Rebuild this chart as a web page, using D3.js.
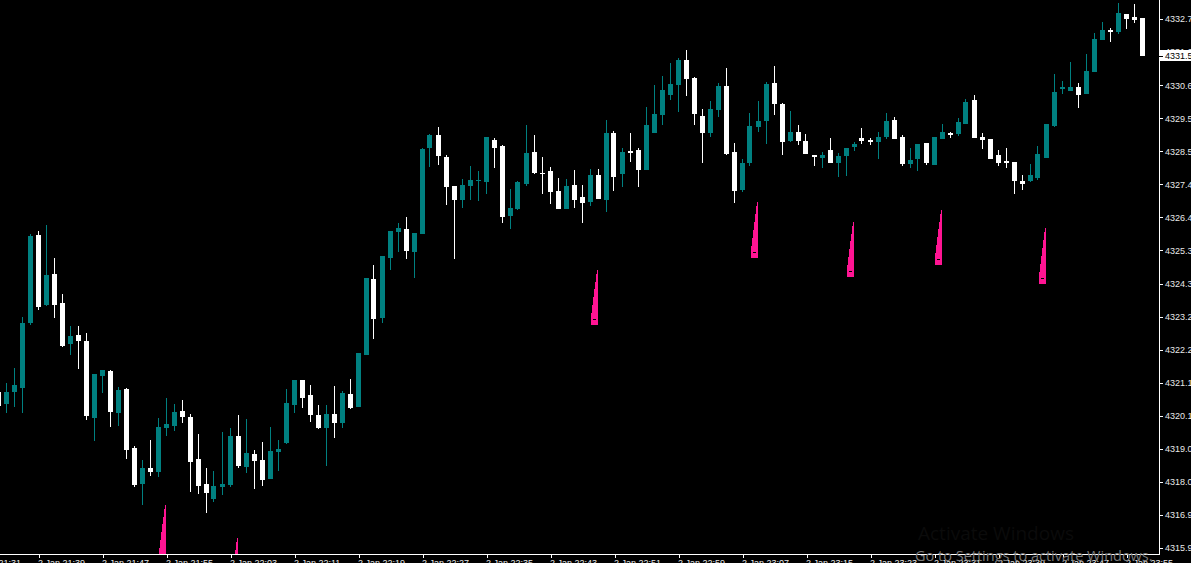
<!DOCTYPE html>
<html>
<head>
<meta charset="utf-8">
<script src="https://cdn.jsdelivr.net/npm/d3@7"></script>
<style>
  html, body { margin: 0; padding: 0; background: #000; overflow: hidden; }
  svg { display: block; }
</style>
</head>
<body>
<svg id="chart" width="1191" height="563"></svg>
<script>
// ---------------- data ----------------
const firstCandle = "2 Jan 21:34";   // one-minute candles
const opens = [
4320.88,4320.51,4320.88,4321.02,4323.07,4325.87,4323.64,4324.63,4323.71,4322.40,
4322.69,4322.50,4320.05,4321.39,4321.55,4320.21,4320.98,4319.10,4317.96,4318.47,
4318.34,4319.74,4319.80,4320.28,4320.09,4318.75,4317.96,4317.48,4317.86,4317.93,
4319.48,4318.50,4318.91,4318.72,4318.12,4318.97,4319.26,4320.47,4321.26,4320.78,
4320.15,4319.74,4320.18,4319.90,4320.82,4320.40,4322.06,4324.47,4323.23,4325.14,
4325.96,4326.06,4325.33,4325.90,4328.63,4329.04,4328.34,4327.42,4326.98,4327.42,
4327.58,4327.55,4328.88,4328.69,4326.47,4326.69,4327.49,4328.50,4327.84,4327.90,
4327.26,4326.69,4327.45,4327.07,4326.91,4327.77,4326.98,4329.11,4327.80,4328.53,
4328.57,4327.93,4329.11,4329.68,4330.31,4330.63,4331.42,4330.85,4329.65,4329.11,
4329.84,4330.60,4328.50,4327.30,4328.15,4329.30,4329.49,4330.69,4330.03,4328.85,
4329.14,4328.85,4328.41,4328.31,4328.57,4328.15,4328.37,4328.66,4328.95,4328.88,
4328.82,4328.98,4329.52,4328.98,4328.12,4328.28,4328.79,4328.09,4328.92,4329.11,
4329.07,4329.39,4330.15,4328.98,4328.92,4328.41,4328.22,4328.18,4327.58,4327.58,
4327.68,4328.31,4329.33,4330.50,4330.44,4330.57,4330.34,4331.04,4332.06,4332.38,
4332.31,4332.89,4332.79,4332.76];
const highs = [
4320.94,4321.17,4321.64,4323.28,4325.90,4325.99,4326.18,4325.14,4323.99,4322.98,
4322.98,4322.75,4321.45,4321.58,4321.58,4321.04,4321.01,4319.17,4318.72,4319.36,
4320.05,4320.69,4320.50,4320.63,4320.18,4319.55,4318.47,4318.37,4319.61,4319.74,
4320.15,4320.02,4319.04,4319.29,4319.77,4319.36,4320.98,4321.26,4321.26,4321.10,
4320.47,4320.47,4321.07,4320.91,4321.29,4322.12,4324.50,4324.91,4325.20,4325.99,
4326.25,4326.44,4325.93,4328.63,4329.07,4329.30,4328.41,4327.42,4327.64,4328.06,
4327.90,4328.98,4328.95,4328.72,4327.33,4327.58,4329.36,4329.04,4328.34,4328.03,
4327.68,4327.64,4327.93,4327.45,4327.96,4327.96,4329.52,4329.17,4328.63,4329.11,
4328.63,4329.93,4330.63,4330.92,4331.33,4331.49,4331.74,4330.88,4329.87,4330.12,
4330.69,4331.17,4328.79,4328.28,4329.74,4330.12,4330.73,4331.23,4330.06,4329.80,
4329.36,4329.07,4328.41,4328.50,4328.95,4328.47,4328.63,4328.82,4329.26,4328.95,
4329.14,4329.74,4329.61,4329.04,4328.63,4328.76,4328.79,4328.98,4329.39,4329.14,
4329.58,4330.19,4330.31,4329.11,4328.92,4328.57,4328.63,4328.18,4327.77,4328.12,
4328.69,4329.39,4330.98,4330.76,4331.36,4330.69,4331.61,4332.28,4332.63,4332.44,
4333.23,4332.89,4333.20,4332.76];
const lows = [
4320.31,4320.22,4320.40,4320.22,4323.01,4323.48,4323.61,4323.23,4322.31,4322.06,
4321.61,4319.99,4319.32,4320.85,4319.77,4319.80,4318.75,4317.86,4317.29,4318.21,
4318.18,4319.48,4319.64,4319.90,4317.70,4317.64,4317.04,4317.39,4317.61,4317.86,
4318.47,4318.31,4317.80,4317.89,4318.12,4318.37,4319.23,4320.21,4320.37,4319.93,
4319.71,4318.53,4319.42,4319.74,4320.34,4320.40,4322.06,4322.56,4323.07,4324.75,
4325.33,4325.10,4324.50,4325.90,4328.03,4328.09,4326.82,4325.10,4326.72,4326.98,
4326.95,4327.17,4328.00,4326.25,4326.06,4326.66,4327.42,4327.80,4327.17,4326.85,
4326.69,4326.69,4326.72,4326.25,4326.79,4327.01,4326.60,4327.26,4327.39,4328.18,
4327.39,4327.93,4329.11,4329.36,4330.15,4329.77,4330.28,4329.36,4328.15,4328.98,
4329.61,4328.41,4326.88,4327.23,4328.06,4329.14,4328.76,4329.68,4328.41,4328.82,
4328.72,4328.44,4328.06,4328.00,4328.15,4327.71,4327.74,4328.53,4328.76,4328.72,
4328.28,4328.92,4328.92,4328.06,4328.00,4327.90,4328.09,4328.09,4328.92,4328.95,
4329.01,4329.39,4328.95,4328.60,4328.28,4328.06,4328.00,4327.17,4327.30,4327.55,
4327.61,4328.31,4329.30,4330.34,4330.44,4329.90,4330.34,4331.04,4332.06,4332.00,
4332.25,4332.41,4332.60,4331.55];
const closes = [
4320.44,4320.88,4321.10,4323.07,4325.83,4323.58,4324.60,4323.64,4322.34,4322.66,
4322.50,4320.12,4321.45,4321.58,4320.25,4320.94,4319.04,4317.93,4318.47,4318.34,
4319.77,4319.87,4320.25,4320.09,4318.66,4317.89,4317.67,4317.89,4317.96,4319.48,
4318.53,4318.94,4318.69,4318.09,4319.01,4319.07,4320.53,4321.26,4320.69,4320.15,
4319.74,4320.18,4319.90,4320.85,4320.37,4322.12,4324.50,4323.20,4325.20,4325.99,
4326.09,4325.36,4325.93,4328.60,4329.04,4328.37,4327.39,4326.98,4327.45,4327.61,
4327.61,4328.98,4328.63,4326.44,4326.72,4327.55,4328.47,4327.84,4327.80,4327.23,
4326.69,4327.42,4326.98,4326.88,4327.77,4327.01,4329.11,4327.71,4328.50,4328.47,
4327.93,4329.36,4329.71,4330.47,4330.66,4331.42,4330.82,4329.71,4329.11,4329.87,
4330.60,4328.44,4327.26,4328.15,4329.33,4329.49,4330.66,4330.03,4328.82,4329.14,
4328.85,4328.44,4328.34,4328.41,4328.15,4328.37,4328.63,4328.76,4328.85,4328.82,
4328.98,4329.49,4328.92,4328.12,4328.25,4328.76,4328.15,4328.98,4329.14,4329.04,
4329.46,4330.09,4328.95,4328.88,4328.28,4328.15,4328.15,4327.58,4327.49,4327.77,
4328.44,4329.39,4330.41,4330.57,4330.57,4330.31,4331.08,4332.09,4332.38,4332.31,
4332.92,4332.73,4332.70,4331.55];

// time-axis labels (every 8 minutes)
const timeLabels = ["2 Jan 21:31","2 Jan 21:39","2 Jan 21:47","2 Jan 21:55","2 Jan 22:03",
  "2 Jan 22:11","2 Jan 22:19","2 Jan 22:27","2 Jan 22:35","2 Jan 22:43","2 Jan 22:51",
  "2 Jan 22:59","2 Jan 23:07","2 Jan 23:15","2 Jan 23:23","2 Jan 23:31","2 Jan 23:39",
  "2 Jan 23:47","2 Jan 23:55"];
// price-axis labels
const priceTicks = [4315.93,4316.98,4318.03,4319.08,4320.13,4321.18,4322.23,4323.28,
  4324.33,4325.38,4326.43,4327.48,4328.53,4329.58,4330.63,4331.68,4332.73];
const lastPrice = 4331.55;

// buy arrows: candle time, tip price, base price
const arrowTimes = ["2 Jan 21:55","2 Jan 22:04","2 Jan 22:49","2 Jan 23:09","2 Jan 23:21","2 Jan 23:32","2 Jan 23:45"];
const arrowTop = [4317.29,4316.24,4324.75,4326.91,4326.28,4326.66,4326.09];
const arrowBase = [4315.54,4314.50,4323.01,4325.14,4324.53,4324.91,4324.31];

// ---------------- helpers ----------------
const parseT = d3.timeParse("%Y %d %b %H:%M");
const toDate = s => parseT("2024 " + s);
const t0 = toDate(firstCandle);
const times = opens.map((_, i) => d3.timeMinute.offset(t0, i));
const candles = times.map((t, i) => ({t, o: opens[i], h: highs[i], l: lows[i], c: closes[i]}));

// ---------------- layout ----------------
const W = 1191, H = 563;
const plotRight = 1159, plotBottom = 554;
const TEAL = "#008080", BEAR = "#ffffff", PINK = "#ff1493";

const x = d3.scaleTime()
  .domain([times[0], times[times.length - 1]])
  .range([-1.5, -1.5 + 8 * (times.length - 1)]);
const y = d3.scaleLinear()
  .domain([priceTicks[0], priceTicks[priceTicks.length - 1]])
  .range([548, 19]);

const svg = d3.select("#chart");
svg.append("rect").attr("width", W).attr("height", H).attr("fill", "#000");

svg.append("defs").append("clipPath").attr("id", "plot")
  .append("rect").attr("x", 0).attr("y", 0).attr("width", plotRight).attr("height", plotBottom);

const plot = svg.append("g").attr("clip-path", "url(#plot)").attr("shape-rendering", "crispEdges");

const cg = plot.selectAll("g.candle").data(candles).join("g").attr("class", "candle")
  .attr("fill", d => d.c >= d.o ? TEAL : BEAR);
cg.append("rect")
  .attr("x", d => Math.round(x(d.t)) - 1)
  .attr("width", 1)
  .attr("y", d => Math.round(y(d.h)))
  .attr("height", d => Math.max(1, Math.round(y(d.l)) - Math.round(y(d.h))));
cg.append("rect")
  .attr("x", d => Math.round(x(d.t)) - 3)
  .attr("width", 5)
  .attr("y", d => Math.round(y(Math.max(d.o, d.c))))
  .attr("height", d => Math.max(1, Math.round(y(Math.min(d.o, d.c))) - Math.round(y(Math.max(d.o, d.c)))));

// arrows
const arrows = arrowTimes.map((s, i) => ({t: toDate(s), top: arrowTop[i], base: arrowBase[i]}));
const ag = plot.selectAll("g.arrow").data(arrows).join("g").attr("class", "arrow");
ag.append("path")
  .attr("fill", PINK)
  .attr("d", d => {
    const xr = Math.round(x(d.t)) - 1, yt = Math.round(y(d.top)), yb = Math.round(y(d.base));
    return `M${xr - 7},${yb} L${xr},${yb} L${xr},${yt} L${xr - 1},${yt} L${xr - 7},${yb - 8} Z`;
  });
ag.append("rect").attr("fill", "#000")
  .attr("x", d => Math.round(x(d.t)) - 6)
  .attr("y", d => Math.round(y(d.base)) - 6)
  .attr("width", 3).attr("height", 1);

// ---------------- axes ----------------
const axisFont = "'Liberation Sans', Arial, sans-serif";

// bottom axis
const xAxis = d3.axisBottom(x)
  .tickValues(timeLabels.map(toDate))
  .tickSize(4).tickSizeOuter(0)
  .tickFormat(d3.timeFormat("%-d %b %H:%M"));
const gx = svg.append("g").attr("transform", `translate(0,${plotBottom})`).call(xAxis);
gx.select(".domain").remove();
gx.selectAll(".tick line").attr("stroke", "#fff").attr("shape-rendering", "crispEdges");
gx.selectAll(".tick text")
  .attr("fill", "#e8e8e8").attr("font-family", axisFont).attr("font-size", 9)
  .attr("text-anchor", "start").attr("x", -1).attr("y", 0).attr("dy", 12);
svg.append("line").attr("x1", 0).attr("x2", plotRight + 1).attr("y1", plotBottom + 0.5).attr("y2", plotBottom + 0.5)
  .attr("stroke", "#fff").attr("shape-rendering", "crispEdges");

// right axis
const yAxis = d3.axisRight(y)
  .tickValues(priceTicks)
  .tickSize(4).tickSizeOuter(0)
  .tickFormat(d3.format(".2f"));
const gy = svg.append("g").attr("transform", `translate(${plotRight},0)`).call(yAxis);
gy.select(".domain").remove();
gy.selectAll(".tick line").attr("stroke", "#fff").attr("shape-rendering", "crispEdges");
gy.selectAll(".tick text")
  .attr("fill", "#e8e8e8").attr("font-family", axisFont).attr("font-size", 9)
  .attr("x", 6);
svg.append("line").attr("x1", plotRight + 0.5).attr("x2", plotRight + 0.5).attr("y1", 0).attr("y2", plotBottom + 1)
  .attr("stroke", "#fff").attr("shape-rendering", "crispEdges");

// last price marker
const yl = Math.round(y(lastPrice));
svg.append("rect").attr("x", plotRight + 1).attr("y", yl - 6).attr("width", W - plotRight).attr("height", 11)
  .attr("fill", "#fff").attr("shape-rendering", "crispEdges");
svg.append("line").attr("x1", plotRight).attr("x2", plotRight + 4).attr("y1", yl + 0.5).attr("y2", yl + 0.5)
  .attr("stroke", "#000").attr("shape-rendering", "crispEdges");
svg.append("text").attr("x", plotRight + 6).attr("y", yl).attr("dy", "0.35em")
  .attr("fill", "#000").attr("font-family", axisFont).attr("font-size", 9)
  .text(d3.format(".2f")(lastPrice));

// OS watermark overlay
svg.append("text").attr("x", 918).attr("y", 540)
  .attr("fill", "#0b0b0b").attr("font-family", "'Open Sans', sans-serif").attr("font-size", 19)
  .text("Activate Windows");
svg.append("text").attr("x", 915).attr("y", 561)
  .attr("fill", "#7a7a7a").attr("font-family", "'Open Sans', sans-serif").attr("font-size", 14.5)
  .text("Go to Settings to activate Windows.");
</script>
</body>
</html>
